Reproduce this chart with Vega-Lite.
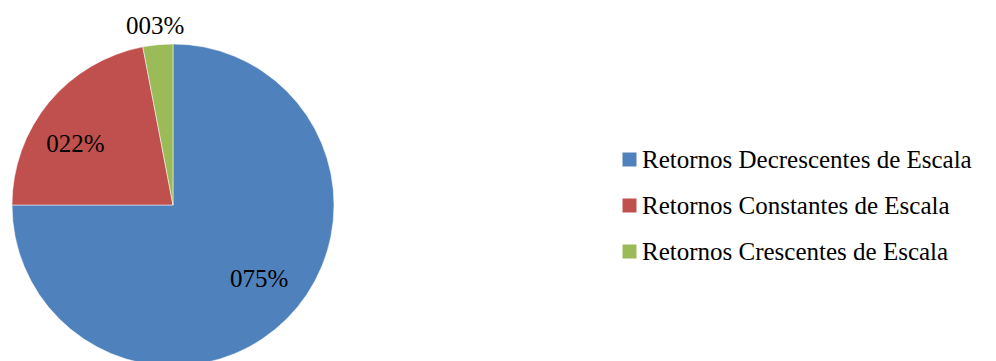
{
  "$schema": "https://vega.github.io/schema/vega-lite/v6.json",
  "autosize": {"type": "none"},
  "width": 346,
  "height": 410,
  "padding": {"left": 0, "top": 0, "right": 650, "bottom": 0},
  "background": "white",
  "config": {"view": {"stroke": null}},
  "data": {"values": [
    {"categoria": "Retornos Decrescentes de Escala", "valor": 0.75, "ordem": 1},
    {"categoria": "Retornos Constantes de Escala", "valor": 0.22, "ordem": 2},
    {"categoria": "Retornos Crescentes de Escala", "valor": 0.03, "ordem": 3}
  ]},
  "encoding": {
    "theta": {"field": "valor", "type": "quantitative", "stack": true},
    "order": {"field": "ordem", "type": "quantitative"}
  },
  "layer": [
    {
      "mark": {"type": "arc", "outerRadius": 161, "stroke": "white", "strokeWidth": 0.5},
      "encoding": {
        "color": {
          "field": "categoria", "type": "nominal",
          "scale": {
            "domain": ["Retornos Decrescentes de Escala", "Retornos Constantes de Escala", "Retornos Crescentes de Escala"],
            "range": ["#4F81BD", "#C0504D", "#9BBB59"]
          },
          "legend": {
            "orient": "none", "legendX": 617, "legendY": 147, "title": null,
            "symbolType": "square", "symbolSize": 196, "symbolStrokeWidth": 0,
            "labelFont": "Liberation Serif, DejaVu Serif, serif", "labelFontSize": 25, "labelColor": "black",
            "labelOffset": 0, "rowPadding": 20, "padding": 0, "labelLimit": 0
          }
        }
      }
    },
    {
      "mark": {"type": "text", "radius": 113.5, "dx": 6, "dy": -6, "font": "Liberation Serif, DejaVu Serif, serif", "fontSize": 25},
      "encoding": {
        "detail": {"field": "categoria", "type": "nominal"},
        "color": {"value": "black"},
        "text": {"condition": {"test": "datum.ordem == 1", "field": "valor", "type": "quantitative", "format": "04.0%"}, "value": ""}
      }
    },
    {
      "mark": {"type": "text", "radius": 115, "dx": -9, "dy": 12, "font": "Liberation Serif, DejaVu Serif, serif", "fontSize": 25},
      "encoding": {
        "detail": {"field": "categoria", "type": "nominal"},
        "color": {"value": "black"},
        "text": {"condition": {"test": "datum.ordem == 2", "field": "valor", "type": "quantitative", "format": "04.0%"}, "value": ""}
      }
    },
    {
      "mark": {"type": "text", "radius": 179.4, "dx": -1, "dy": 0, "font": "Liberation Serif, DejaVu Serif, serif", "fontSize": 25},
      "encoding": {
        "detail": {"field": "categoria", "type": "nominal"},
        "color": {"value": "black"},
        "text": {"condition": {"test": "datum.ordem == 3", "field": "valor", "type": "quantitative", "format": "04.0%"}, "value": ""}
      }
    }
  ]
}
